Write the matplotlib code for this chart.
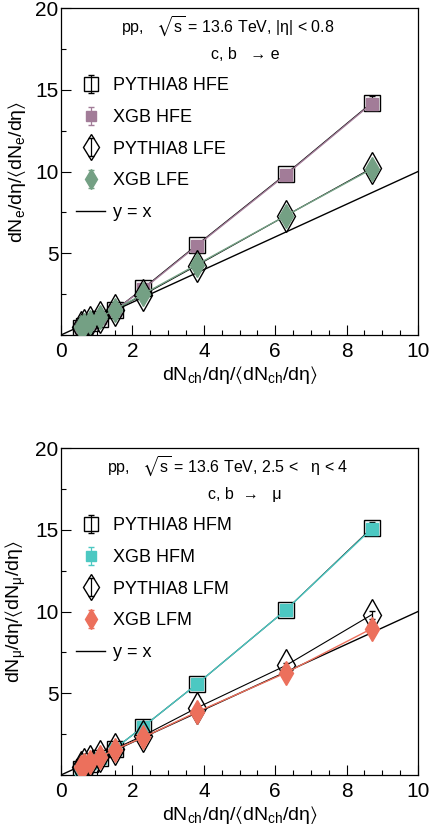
import matplotlib
matplotlib.use('Agg')
from matplotlib import pyplot as plt
from matplotlib.ticker import MultipleLocator

plt.rcParams['font.family'] = ['Liberation Sans', 'DejaVu Sans']
plt.rcParams['mathtext.fontset'] = 'custom'
plt.rcParams['mathtext.rm'] = 'Liberation Sans'
plt.rcParams['mathtext.it'] = 'Liberation Sans:italic'
plt.rcParams['mathtext.fallback'] = 'stixsans'

# multiplicity classes (x)
mult = [0.55, 0.65, 0.8, 1.1, 1.5, 2.3, 3.8, 6.3, 8.7]

# electrons
hfe_pythia = [0.45, 0.55, 0.75, 1.0, 1.5, 2.85, 5.5, 9.85, 14.2]
hfe_pythia_err = [0.03, 0.03, 0.04, 0.05, 0.06, 0.1, 0.15, 0.25, 0.4]
hfe_xgb = [0.47, 0.57, 0.76, 1.02, 1.5, 2.8, 5.45, 9.8, 14.15]
hfe_xgb_err = [0.03, 0.03, 0.04, 0.05, 0.06, 0.1, 0.15, 0.2, 0.3]
lfe_pythia = [0.5, 0.62, 0.8, 1.07, 1.55, 2.45, 4.25, 7.3, 10.2]
lfe_pythia_err = [0.03, 0.03, 0.04, 0.05, 0.06, 0.08, 0.1, 0.15, 0.25]
lfe_xgb = [0.5, 0.63, 0.8, 1.07, 1.55, 2.5, 4.3, 7.3, 10.15]
lfe_xgb_err = [0.03, 0.03, 0.04, 0.05, 0.06, 0.08, 0.1, 0.15, 0.2]

# muons
hfm_pythia = [0.35, 0.48, 0.7, 1.05, 1.6, 2.95, 5.55, 10.1, 15.1]
hfm_pythia_err = [0.03, 0.03, 0.04, 0.05, 0.06, 0.1, 0.15, 0.25, 0.4]
hfm_xgb = [0.36, 0.5, 0.72, 1.05, 1.6, 2.95, 5.55, 10.1, 15.05]
hfm_xgb_err = [0.03, 0.03, 0.04, 0.05, 0.06, 0.1, 0.15, 0.2, 0.3]
lfm_pythia = [0.5, 0.65, 0.85, 1.15, 1.6, 2.4, 4.1, 6.7, 9.8]
lfm_pythia_err = [0.03, 0.03, 0.04, 0.05, 0.06, 0.08, 0.1, 0.15, 0.25]
lfm_xgb = [0.5, 0.63, 0.82, 1.1, 1.55, 2.3, 3.85, 6.25, 8.95]
lfm_xgb_err = [0.03, 0.03, 0.04, 0.05, 0.06, 0.08, 0.1, 0.15, 0.2]

diag = [0, 10]

c_hfe = '#a27c98'
c_lfe = '#74a084'
c_hfm = '#4cc8c2'
c_lfm = '#ec705c'

fig = plt.figure(figsize = (4.3, 8.36), dpi = 100)
ax1 = fig.add_axes([0.142, 0.5993, 0.830, 0.391])
ax2 = fig.add_axes([0.142, 0.073, 0.830, 0.391])


def panel(ax, hp, hpe, hx, hxe, lp, lpe, lx, lxe, ch, cl, names, header, chan, ylab):
    # connecting lines
    ax.plot(mult, hp, color = 'k', lw = 0.8, zorder = 3)
    ax.plot(mult, hx, color = ch, lw = 1.0, zorder = 4)
    ax.plot(mult, lp, color = 'k', lw = 0.8, zorder = 5)
    ax.plot(mult, lx, color = cl, lw = 1.0, zorder = 6)
    # markers with errors
    h1 = ax.errorbar(mult, hp, yerr = hpe, fmt = 's', color = 'k', mfc = 'none', mec = 'k',
                     ms = 11.5, mew = 1.0, capsize = 2, elinewidth = 0.9, zorder = 3)
    h2 = ax.errorbar(mult, hx, yerr = hxe, fmt = 's', color = ch, mfc = ch, mec = ch,
                     ms = 9, capsize = 2, elinewidth = 0.9, zorder = 4)
    h3 = ax.errorbar(mult, lp, yerr = lpe, fmt = 'd', color = 'k', mfc = 'none', mec = 'k',
                     ms = 16, mew = 1.0, capsize = 2, elinewidth = 0.9, zorder = 5)
    h4 = ax.errorbar(mult, lx, yerr = lxe, fmt = 'd', color = cl, mfc = cl, mec = cl,
                     ms = 12, capsize = 2, elinewidth = 0.9, zorder = 6)
    h5, = ax.plot(diag, diag, color = 'k', lw = 1.0, zorder = 2)

    ax.set_xlim(0, 10)
    ax.set_ylim(0, 20)
    ax.xaxis.set_major_locator(MultipleLocator(2))
    ax.xaxis.set_minor_locator(MultipleLocator(0.5))
    ax.set_yticks([5, 10, 15, 20])
    ax.yaxis.set_minor_locator(MultipleLocator(2.5))
    ax.tick_params(which = 'both', direction = 'in', top = False, right = False, labelsize = 15)
    ax.tick_params(which = 'major', length = 7, width = 0.8)
    ax.tick_params(which = 'minor', length = 3.5, width = 0.8)
    ax.tick_params(axis = 'x', pad = 5)
    ax.tick_params(axis = 'y', pad = 2)
    for s in ax.spines.values():
        s.set_linewidth(0.9)

    ax.set_xlabel(r'dN$_{\mathrm{ch}}$/dη/$\langle$dN$_{\mathrm{ch}}$/dη$\rangle$', fontsize = 14, labelpad = 2)
    ax.set_ylabel(ylab, fontsize = 14, labelpad = 5)

    ax.text(0.468, 0.942, header, transform = ax.transAxes, ha = 'center', va = 'center', fontsize = 11.5)
    ax.text(0.515, 0.858, chan, transform = ax.transAxes, ha = 'center', va = 'center', fontsize = 11.5)

    ax.legend([h1, h2, h3, h4, h5], names, loc = 'upper left', bbox_to_anchor = (0.043, 0.789),
              frameon = False, fontsize = 13, borderpad = 0, borderaxespad = 0, markerscale = 0.85,
              handlelength = 1.6, handletextpad = 0.4, labelspacing = 0.82)


panel(ax1, hfe_pythia, hfe_pythia_err, hfe_xgb, hfe_xgb_err,
      lfe_pythia, lfe_pythia_err, lfe_xgb, lfe_xgb_err, c_hfe, c_lfe,
      ['PYTHIA8 HFE', 'XGB HFE', 'PYTHIA8 LFE', 'XGB LFE', 'y = x'],
      r'pp,   $\sqrt{\mathrm{s}}$ = 13.6 TeV, |η| < 0.8', 'c, b   → e',
      r'dN$_{\mathrm{e}}$/dη/$\langle$dN$_{\mathrm{e}}$/dη$\rangle$')

panel(ax2, hfm_pythia, hfm_pythia_err, hfm_xgb, hfm_xgb_err,
      lfm_pythia, lfm_pythia_err, lfm_xgb, lfm_xgb_err, c_hfm, c_lfm,
      ['PYTHIA8 HFM', 'XGB HFM', 'PYTHIA8 LFM', 'XGB LFM', 'y = x'],
      r'pp,   $\sqrt{\mathrm{s}}$ = 13.6 TeV, 2.5 <   η < 4', 'c, b  →   μ',
      r'dN$_{\mathrm{μ}}$/dη/$\langle$dN$_{\mathrm{μ}}$/dη$\rangle$')

fig.savefig('out.png', dpi = 100)
